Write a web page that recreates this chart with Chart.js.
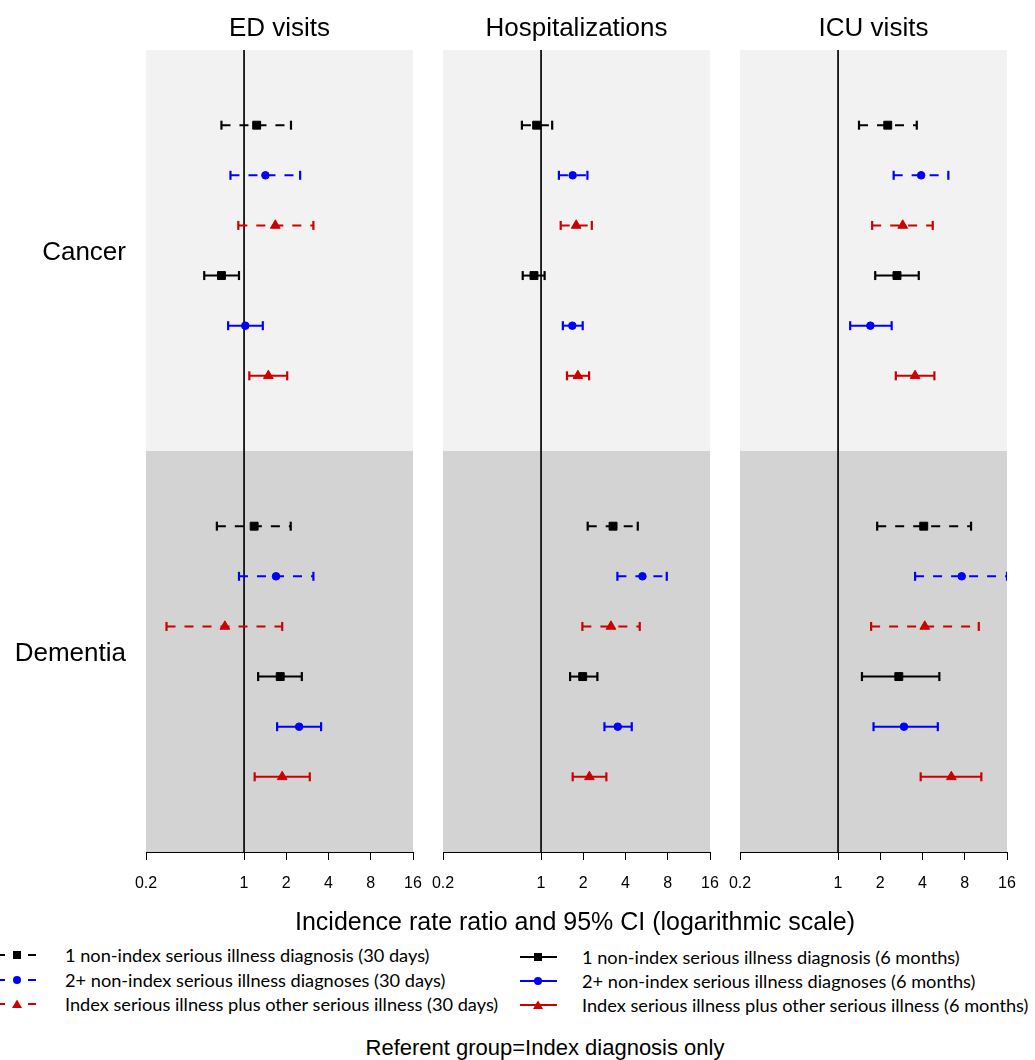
<!DOCTYPE html>
<html lang="en">
<head>
<meta charset="UTF-8">
<title>Incidence rate ratios</title>
<style>
    body { margin: 0; background: #fff; font-family: "Liberation Sans", Arial, sans-serif; }
    #wrap { position: relative; width: 1035px; height: 1060px; overflow: hidden; }
    .panel { position: absolute; top: 0; }
    .txt { position: absolute; white-space: nowrap; color: #000; }
    .title { font-size: 26px; transform: translate(-50%, -50%); }
    .group { font-size: 26px; transform: translate(-100%, -50%); }
    .leg { position: absolute; font-family: "Lato", "Open Sans", sans-serif; font-size: 18.2px; white-space: nowrap; }
</style>
</head>
<body>
<div id="wrap"></div>
<script src="https://cdn.jsdelivr.net/npm/chart.js"></script>
<script>
// ---- data ----
const panelTitles = ['ED visits', 'Hospitalizations', 'ICU visits'];
const groups = ['Cancer', 'Dementia'];
const seriesLabels = [
    '1 non-index serious illness diagnosis (30 days)',
    '2+ non-index serious illness diagnoses (30 days)',
    'Index serious illness plus other serious illness (30 days)',
    '1 non-index serious illness diagnosis (6 months)',
    '2+ non-index serious illness diagnoses (6 months)',
    'Index serious illness plus other serious illness (6 months)'
];
const tickVals = [0.2, 1, 2, 4, 8, 16];

// 12 rows per panel: Cancer rows 1-6, then Dementia rows 1-6 (series order above)
const edEst = [1.23, 1.42, 1.67, 0.69, 1.02, 1.49, 1.18, 1.69, 0.73, 1.81, 2.47, 1.87];
const edLo  = [0.69, 0.80, 0.91, 0.52, 0.77, 1.09, 0.64, 0.92, 0.28, 1.26, 1.72, 1.19];
const edHi  = [2.16, 2.51, 3.12, 0.92, 1.36, 2.03, 2.15, 3.12, 1.87, 2.58, 3.54, 2.94];

const hospEst = [0.93, 1.68, 1.78, 0.89, 1.67, 1.83, 3.26, 5.28, 3.15, 1.98, 3.52, 2.21];
const hospLo  = [0.73, 1.34, 1.38, 0.74, 1.43, 1.53, 2.15, 3.50, 1.97, 1.61, 2.83, 1.68];
const hospHi  = [1.20, 2.14, 2.30, 1.06, 1.98, 2.20, 4.89, 7.87, 5.05, 2.52, 4.43, 2.92];

const icuEst = [2.26, 3.91, 2.89, 2.63, 1.70, 3.54, 4.08, 7.61, 4.15, 2.71, 2.95, 6.42];
const icuLo  = [1.41, 2.49, 1.75, 1.84, 1.22, 2.58, 1.90, 3.54, 1.72, 1.48, 1.79, 3.88];
const icuHi  = [3.64, 6.11, 4.73, 3.76, 2.41, 4.86, 8.87, 16.0, 10.07, 5.27, 5.14, 10.5];

// ---- styles ----
const colors = ['#000000', '#0000ff', '#cd0000', '#000000', '#0000ff', '#cd0000'];
const markers = ['rect', 'circle', 'triangle', 'rect', 'circle', 'triangle'];
const markerSize = { rect: 5.6, circle: 3.8, triangle: 5.6 };
const dashed = [true, true, true, false, false, false];

const panelData = [[edEst, edLo, edHi], [hospEst, hospLo, hospHi], [icuEst, icuLo, icuHi]];
const panelLeft = [146, 443, 740];
const panelW = 267;
const pad = 30;

Chart.defaults.font.family = '"Liberation Sans", Arial, sans-serif';
Chart.defaults.color = '#000';

const bgPlugin = {
    id: 'bg',
    beforeDatasetsDraw(chart) {
        const { ctx, chartArea: a, scales: { x, y } } = chart;
        ctx.save();
        ctx.fillStyle = '#f2f2f2';
        ctx.fillRect(a.left, y.getPixelForValue(0), a.width, y.getPixelForValue(8) - y.getPixelForValue(0));
        ctx.fillStyle = '#d3d3d3';
        ctx.fillRect(a.left, y.getPixelForValue(8), a.width, y.getPixelForValue(16) - y.getPixelForValue(8));
        const x1 = x.getPixelForValue(1);
        ctx.strokeStyle = '#111';
        ctx.lineWidth = 1.8;
        ctx.beginPath();
        ctx.moveTo(x1, a.top);
        ctx.lineTo(x1, a.bottom);
        ctx.stroke();
        ctx.restore();
    }
};

const wrap = document.getElementById('wrap');

function addText(cls, text, x, y, extra) {
    const d = document.createElement('div');
    d.className = 'txt ' + cls;
    d.textContent = text;
    d.style.left = x + 'px';
    d.style.top = y + 'px';
    if (extra) Object.assign(d.style, extra);
    wrap.appendChild(d);
    return d;
}

panelData.forEach(([est, lo, hi], p) => {
    const cv = document.createElement('canvas');
    cv.className = 'panel';
    cv.width = panelW + 2 * pad;
    cv.height = 910;
    cv.style.left = (panelLeft[p] - pad) + 'px';
    wrap.appendChild(cv);

    const datasets = [];
    est.forEach((v, i) => {
        const g = Math.floor(i / 6), s = i % 6;
        const yv = g * 8 + 1.5 + s;
        datasets.push({
            data: [{ x: lo[i], y: yv }, { x: v, y: yv }, { x: hi[i], y: yv }],
            showLine: true,
            borderColor: colors[s],
            backgroundColor: colors[s],
            borderWidth: 2,
            borderDash: dashed[s] ? [9, 9] : [],
            pointStyle: ['line', markers[s], 'line'],
            pointRotation: [90, 0, 90],
            pointRadius: [4.5, markerSize[markers[s]], 4.5],
            pointBorderWidth: [2.2, 1, 2.2],
            pointBorderColor: colors[s],
            pointBackgroundColor: colors[s]
        });
    });

    new Chart(cv, {
        type: 'scatter',
        data: { datasets },
        options: {
            responsive: false,
            animation: false,
            layout: { padding: { top: 50, bottom: 8, left: pad, right: pad } },
            plugins: { legend: { display: false }, tooltip: { enabled: false } },
            scales: {
                x: {
                    type: 'logarithmic',
                    min: 0.2,
                    max: 16,
                    afterBuildTicks: (sc) => { sc.ticks = tickVals.map(v => ({ value: v })); },
                    afterFit: (sc) => { sc.height = 50; },
                    ticks: {
                        autoSkip: false,
                        maxRotation: 0,
                        padding: 14,
                        font: { size: 16 },
                        callback: (v) => String(v)
                    },
                    grid: { drawOnChartArea: false, drawTicks: true, tickLength: 8, color: '#000', lineWidth: 1 },
                    border: { display: true, color: '#000', width: 1 }
                },
                y: { type: 'linear', min: 0, max: 16, reverse: true, display: false }
            }
        },
        plugins: [bgPlugin]
    });

    addText('title', panelTitles[p], panelLeft[p] + panelW / 2, 27);
});

addText('group', groups[0], 126, 251);
addText('group', groups[1], 126, 652);
addText('title', 'Incidence rate ratio and 95% CI (logarithmic scale)', 575, 921, { fontSize: '25px' });
addText('title', 'Referent group=Index diagnosis only', 545, 1048, { fontSize: '22px' });

// ---- legend ----
function markerSvg(s, cx) {
    const c = colors[s];
    if (markers[s] === 'rect') return `<rect x="${cx - 4}" y="2" width="8" height="8" fill="${c}"/>`;
    if (markers[s] === 'circle') return `<circle cx="${cx}" cy="6" r="4" fill="${c}"/>`;
    return `<polygon points="${cx - 5},10 ${cx + 5},10 ${cx},1.5" fill="${c}"/>`;
}
const legRowsY = [[955, 980, 1004], [957, 981, 1005]];
seriesLabels.forEach((lab, s) => {
    const col = s < 3 ? 0 : 1;
    const r = s % 3;
    const y = legRowsY[col][r];
    const svgX = col === 0 ? 0 : 520;
    const textX = col === 0 ? 65 : 582;
    const sv = document.createElementNS('http://www.w3.org/2000/svg', 'svg');
    sv.setAttribute('width', 40);
    sv.setAttribute('height', 12);
    sv.style.position = 'absolute';
    sv.style.left = svgX + 'px';
    sv.style.top = (y - 6) + 'px';
    if (col === 0) {
        sv.innerHTML = `<line x1="0" y1="6" x2="5" y2="6" stroke="${colors[s]}" stroke-width="2"/>` +
            `<line x1="28" y1="6" x2="36" y2="6" stroke="${colors[s]}" stroke-width="2"/>` + markerSvg(s, 17);
    } else {
        sv.innerHTML = `<line x1="0" y1="6" x2="37" y2="6" stroke="${colors[s]}" stroke-width="2"/>` + markerSvg(s, 18);
    }
    wrap.appendChild(sv);
    const d = document.createElement('div');
    d.className = 'leg';
    d.textContent = lab;
    d.style.left = textX + 'px';
    d.style.top = y + 'px';
    d.style.transform = 'translateY(-50%)';
    wrap.appendChild(d);
});
</script>
</body>
</html>
